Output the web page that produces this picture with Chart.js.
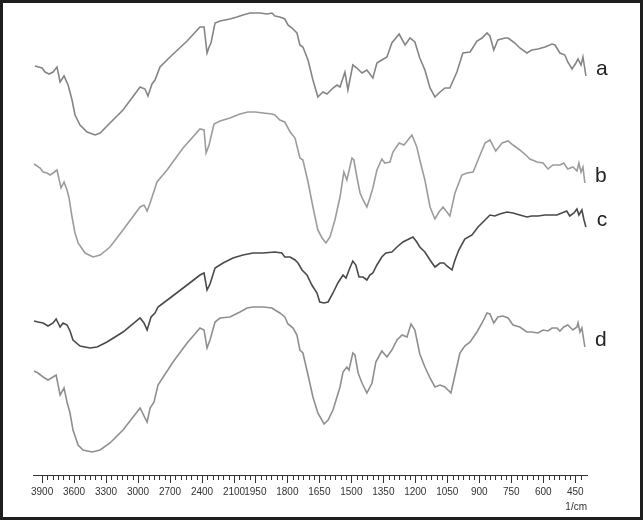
<!DOCTYPE html>
<html>
<head>
<meta charset="utf-8">
<script src="https://cdn.jsdelivr.net/npm/chart.js@4.4.0/dist/chart.umd.min.js"></script>
<style>
  html, body { margin: 0; padding: 0; background: #fff; }
  canvas { display: block; }
</style>
</head>
<body>
<canvas id="chart" width="643" height="520"></canvas>
<script>
// FTIR spectra a-d, wavenumber (1/cm) vs transmittance (arbitrary, traces offset)
const majorTicks = [3900, 3600, 3300, 3000, 2700, 2400, 2100, 1950, 1800, 1650, 1500, 1350, 1200, 1050, 900, 750, 600, 450]
const seriesLabels = ['a', 'b', 'c', 'd']

const aWn = [3968,3900,3872,3834,3797,3760,3731,3694,3656,3619,3591,3544,3478,3403,3356,3263,3141,2981,2935,2907,2869,2841,2794,2700,2540,2419,2381,2353,2334,2316,2278,2231,2138,2072,2016,1975,1928,1896,1872,1858,1835,1812,1797,1778,1755,1741,1727,1703,1680,1657,1633,1614,1586,1567,1553,1530,1516,1493,1474,1450,1427,1399,1380,1357,1333,1310,1276,1248,1225,1202,1179,1155,1131,1108,1084,1061,1038,1005,977,943,911,887,864,850,832,813,779,765,733,710,677,654,625,592,559,545,522,499,485,465,447,437,423,414,400]
const aT = [81.8,81.4,80.6,80.2,80.6,81.6,78.6,79.8,78.0,75.0,72.0,70.0,68.6,68.0,68.4,70.4,73.0,77.6,77.2,75.8,78.2,79.0,81.6,83.6,86.8,89.6,89.6,84.4,85.6,86.4,90.4,90.8,91.2,91.6,92.0,92.4,92.4,92.2,92.4,91.8,91.6,91.2,90.0,89.4,88.4,86.0,85.6,83.0,79.0,75.6,76.6,76.2,77.4,78.0,77.6,80.6,77.0,82.0,81.4,80.4,81.0,79.4,82.4,83.0,83.6,86.4,88.2,86.0,87.4,86.6,83.4,81.0,77.4,75.6,76.6,77.4,77.4,80.6,84.4,84.6,86.8,87.4,88.4,87.8,85.0,87.0,87.4,87.4,86.4,85.4,84.4,85.0,85.2,85.6,86.2,86.0,84.4,84.0,82.6,81.2,82.4,83.2,82.0,83.6,79.8]

const bWn = [3975,3918,3890,3853,3825,3797,3760,3722,3694,3666,3647,3619,3591,3562,3497,3421,3356,3263,3141,2981,2944,2915,2887,2822,2728,2578,2419,2381,2362,2334,2288,2231,2138,2044,1985,1951,1914,1872,1858,1835,1812,1787,1764,1741,1727,1703,1680,1657,1637,1619,1600,1577,1553,1535,1521,1497,1488,1474,1459,1445,1427,1413,1399,1380,1357,1343,1319,1305,1276,1253,1216,1193,1179,1155,1131,1108,1089,1070,1038,1014,982,957,929,906,873,850,823,793,765,742,710,677,663,629,601,578,555,522,504,485,461,442,433,423,414,405]
const bT = [62.2,61.4,60.6,60.4,60.0,60.4,61.0,57.4,58.6,57.0,55.4,51.6,48.4,46.4,44.4,43.6,44.0,45.6,49.0,53.6,54.0,52.8,54.4,58.6,61.0,65.4,69.2,69.0,64.4,66.0,70.2,70.8,71.4,72.2,72.6,72.6,72.4,72.2,72.0,71.0,70.6,68.6,67.4,63.4,63.0,58.6,53.6,49.0,47.4,46.4,47.6,51.0,55.6,60.6,59.0,63.4,63.0,59.6,56.4,55.0,53.6,55.4,57.4,61.0,63.2,62.4,62.6,64.6,66.4,66.0,68.0,65.6,63.0,59.0,53.6,51.2,52.6,53.6,51.8,56.4,60.0,60.4,60.6,63.0,66.4,67.0,64.8,66.4,66.8,66.0,65.0,63.8,63.2,62.6,62.4,61.2,62.0,62.0,62.4,61.2,61.6,60.8,62.4,60.6,61.6,58.4]

const cWn = [3975,3938,3890,3844,3797,3768,3731,3703,3666,3638,3610,3544,3450,3384,3291,3141,2981,2944,2915,2878,2841,2813,2700,2540,2419,2381,2353,2325,2278,2203,2110,2016,1961,1914,1858,1826,1812,1787,1764,1750,1731,1708,1685,1661,1648,1628,1609,1586,1563,1539,1525,1507,1493,1479,1464,1445,1427,1413,1399,1380,1357,1338,1310,1286,1258,1230,1211,1193,1179,1155,1131,1108,1084,1066,1052,1028,1014,996,968,934,906,873,850,827,804,770,742,710,677,654,625,592,559,536,513,490,476,456,442,433,419,409,400]
const cT = [30.8,30.6,30.4,29.8,30.4,31.2,29.6,30.4,30.0,28.8,27.0,25.8,25.4,25.6,26.6,28.6,31.4,30.4,29.0,31.6,32.4,33.6,35.4,38.0,40.0,40.4,37.0,38.2,41.4,42.4,43.4,44.0,44.4,44.4,44.6,44.4,43.6,43.6,43.0,42.4,41.0,40.0,38.0,36.4,34.6,34.4,34.6,36.4,38.4,40.0,39.4,41.4,42.8,42.0,39.6,39.6,39.0,40.0,40.4,42.0,43.6,44.4,44.6,45.6,46.6,47.2,47.6,46.6,45.6,44.6,43.0,41.6,42.4,42.4,41.8,41.0,43.0,45.0,47.2,48.0,49.6,51.0,52.0,51.8,52.2,52.6,52.4,52.0,51.6,51.8,51.8,52.0,52.0,52.0,52.4,52.8,51.8,52.4,53.2,52.0,53.0,51.0,49.6]

const dWn = [3975,3938,3890,3844,3797,3768,3731,3694,3666,3638,3610,3562,3516,3431,3356,3263,3141,2981,2915,2887,2850,2813,2672,2540,2419,2381,2353,2325,2278,2231,2138,2044,1989,1961,1914,1872,1858,1835,1812,1797,1773,1755,1741,1727,1703,1680,1657,1628,1609,1586,1553,1539,1521,1511,1493,1483,1468,1450,1427,1403,1385,1357,1333,1310,1286,1262,1239,1220,1202,1179,1155,1131,1108,1084,1061,1033,1014,991,968,943,911,887,864,850,832,813,789,765,742,710,677,654,625,601,578,559,536,522,504,485,461,442,437,428,419,405]
const dT = [20.8,20.4,19.6,19.0,19.6,20.0,16.0,17.4,14.6,12.4,9.0,6.0,5.0,4.6,5.0,6.4,9.0,13.4,10.6,13.4,14.6,18.0,22.6,26.4,29.4,29.0,25.4,27.0,30.6,31.4,31.6,32.6,33.4,33.6,33.6,33.4,33.0,32.4,31.6,30.2,29.4,28.0,25.0,24.4,20.0,15.6,12.4,10.2,11.0,13.0,17.6,20.6,21.6,21.0,24.4,24.0,20.4,18.4,16.4,18.4,22.6,24.8,23.6,25.0,27.0,28.0,27.6,30.2,29.0,24.2,21.6,19.4,17.6,18.0,17.6,16.4,20.0,24.4,25.8,26.6,28.6,30.4,32.4,32.2,30.4,31.6,31.8,31.4,30.0,29.6,28.6,28.6,28.4,29.0,28.8,29.4,29.4,28.8,29.6,30.0,29.0,29.6,30.4,28.6,29.4,25.6]

const lineColors = ['#858585', '#9c9c9c', '#4a4a4a', '#8f8f8f']

// instrument axis: 300 per division above 2000, 150 per division below
function warp(w){
    return w >= 2000 ? (3900 - w) / 300 : 19 / 3 + (2000 - w) / 150
}
function unwarp(u){
    return u <= 19 / 3 ? 3900 - 300 * u : 2000 - 150 * (u - 19 / 3)
}

class WavenumberScale extends Chart.LinearScale {
    getPixelForValue(value){
        if (value === null || value === undefined) return NaN
        const lo = warp(this.max), hi = warp(this.min)
        return this.getPixelForDecimal((warp(value) - lo) / (hi - lo))
    }
    getValueForPixel(pixel){
        const lo = warp(this.max), hi = warp(this.min)
        return unwarp(lo + this.getDecimalForPixel(pixel) * (hi - lo))
    }
}
WavenumberScale.id = 'wavenumber'
WavenumberScale.defaults = Chart.LinearScale.defaults
Chart.register(WavenumberScale)

const toPoints = (wn, t) => wn.map((w, i) => ({ x: w, y: t[i] }))
const series = [[aWn, aT], [bWn, bT], [cWn, cT], [dWn, dT]]

const frame = {
    id: 'frame',
    beforeDraw(chart){
        const ctx = chart.ctx
        ctx.save()
        ctx.fillStyle = '#fff'
        ctx.fillRect(0, 0, chart.width, chart.height)
        ctx.restore()
    },
    afterDraw(chart){
        const ctx = chart.ctx
        const s = chart.scales.x
        ctx.save()
        // minor ticks
        ctx.strokeStyle = '#333'
        ctx.lineWidth = 1
        ctx.beginPath()
        const minor = []
        for (let w = 3850; w > 2000; w -= 50) minor.push(w)
        for (let w = 2000; w >= 425; w -= 25) minor.push(w)
        minor.filter(w => !majorTicks.includes(w)).forEach(w => {
            const px = Math.round(s.getPixelForValue(w)) + 0.5
            ctx.moveTo(px, s.top)
            ctx.lineTo(px, s.top + 5)
        })
        ctx.stroke()

        // series letters at the right end of each trace
        ctx.fillStyle = '#222'
        ctx.font = '21px "Liberation Sans", Arial, sans-serif'
        ctx.textAlign = 'center'
        ctx.textBaseline = 'middle'
        chart.data.datasets.forEach((ds, i) => {
            const pts = chart.getDatasetMeta(i).data
            const last = pts[pts.length - 1]
            ctx.fillText(ds.label, last.x + 16, last.y - 7)
        })

        // outer border
        ctx.strokeStyle = '#1e1e1e'
        ctx.lineWidth = 3
        ctx.strokeRect(1.5, 1.5, chart.width - 3, chart.height - 3)
        ctx.restore()
    }
}

new Chart(document.getElementById('chart'), {
    type: 'line',
    data: {
        datasets: series.map(([wn, t], i) => ({
            label: seriesLabels[i],
            data: toPoints(wn, t),
            borderColor: lineColors[i],
            borderWidth: 1.6,
            pointRadius: 0,
            tension: 0,
            fill: false,
        }))
    },
    options: {
        responsive: false,
        animation: false,
        devicePixelRatio: 1,
        layout: { padding: { left: 33, right: 56, top: 5, bottom: 5 } },
        plugins: {
            legend: { display: false },
            tooltip: { enabled: false },
        },
        scales: {
            x: {
                type: 'wavenumber',
                min: 395,
                max: 3985,
                afterBuildTicks: (scale) => { scale.ticks = majorTicks.map(v => ({ value: v })) },
                afterFit: (scale) => { scale.height = 40 },
                grid: { drawOnChartArea: false, tickLength: 8, tickColor: '#333' },
                border: { color: '#333', width: 1 },
                ticks: {
                    autoSkip: false,
                    maxRotation: 0,
                    padding: 3,
                    color: '#333',
                    font: { family: '"Liberation Sans Narrow", "Liberation Sans", Arial, sans-serif', size: 10 },
                    callback: (v) => String(v),
                },
                title: {
                    display: true,
                    text: '1/cm',
                    align: 'end',
                    color: '#333',
                    padding: { top: 0, bottom: 2 },
                    font: { family: '"Liberation Sans Narrow", "Liberation Sans", Arial, sans-serif', size: 10 },
                },
            },
            y: {
                display: false,
                min: 0,
                max: 94,
            },
        },
    },
    plugins: [frame],
})
</script>
</body>
</html>
